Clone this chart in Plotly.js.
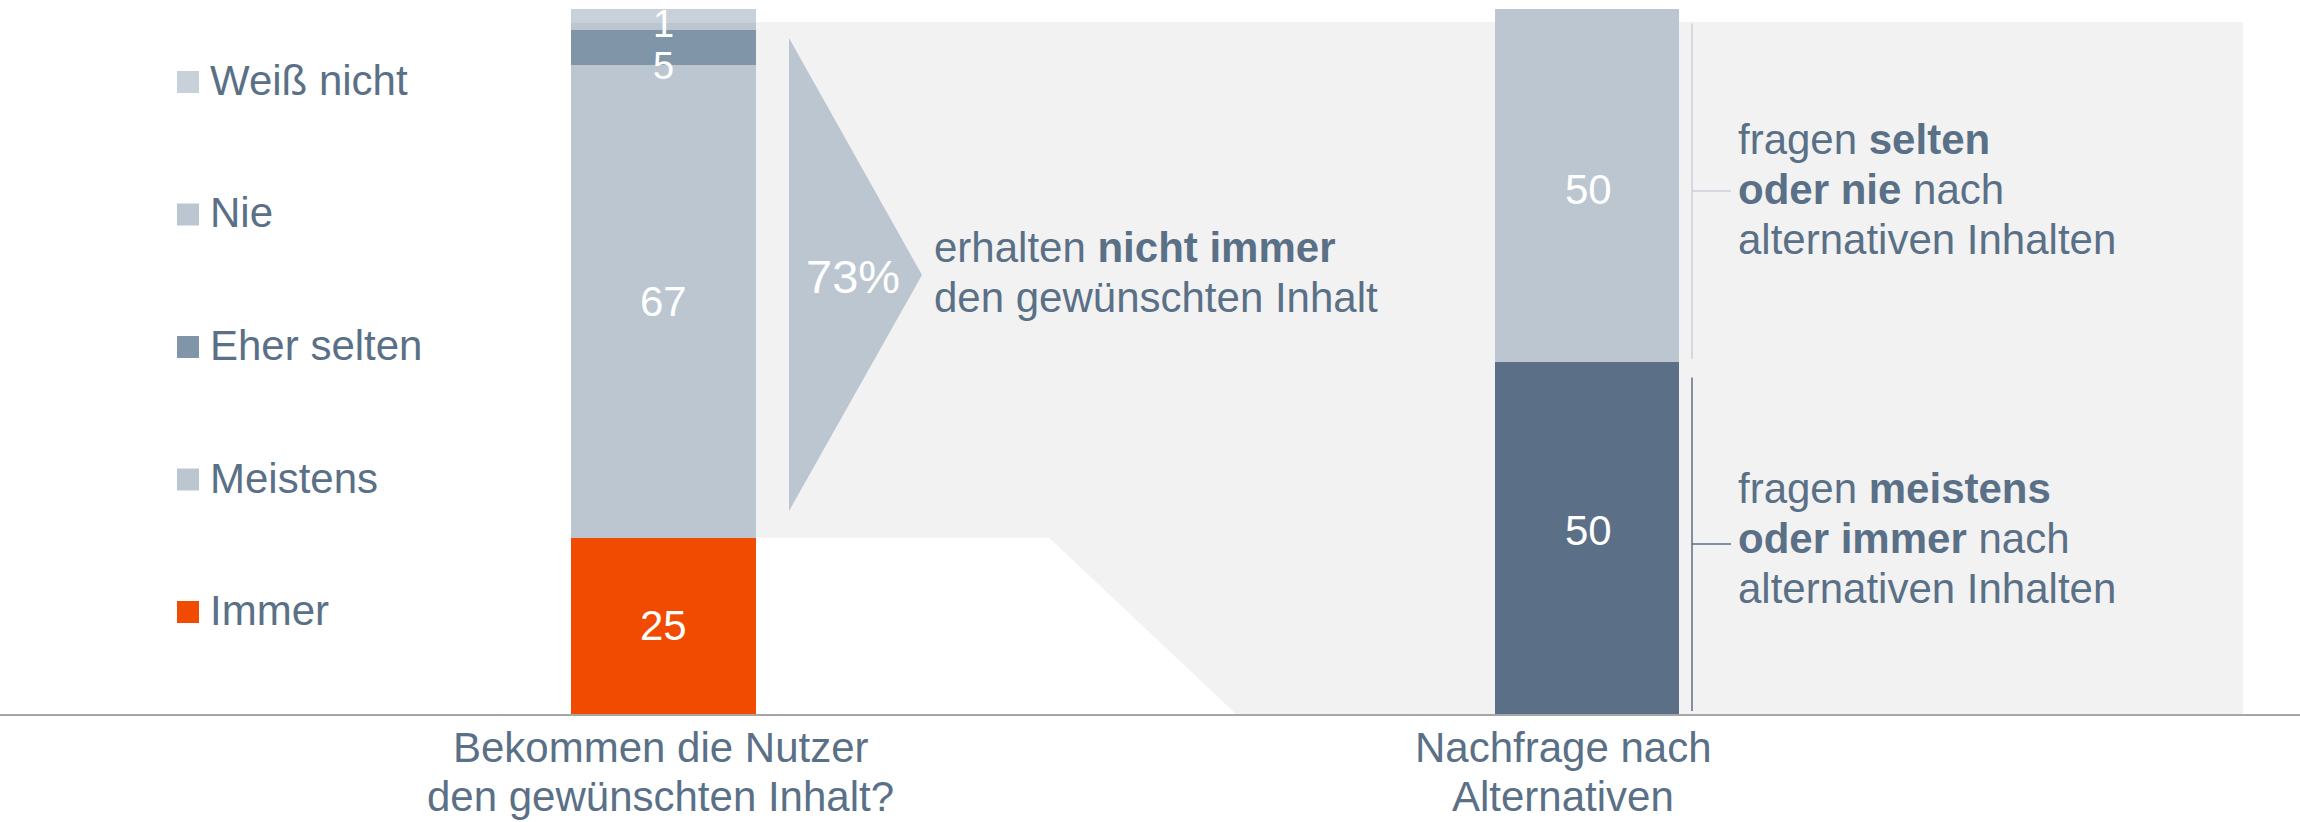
<!DOCTYPE html>
<html>
<head>
<meta charset="utf-8">
<script src="https://cdn.plot.ly/plotly-3.0.1.min.js"></script>
<style>html,body{margin:0;padding:0;background:#fff;}#chart{width:2300px;height:822px;}</style>
</head>
<body>
<div id="chart"></div>
<script>
// ---------- DATA ----------
const categories = ["Bekommen die Nutzer<br>den gewünschten Inhalt?", "Nachfrage nach<br>Alternativen"];
const answerLabels = ["Immer", "Meistens", "Eher selten", "Nie", "Weiß nicht"];
const answerValues = [25, 67, 5, 1, 2];
const answerValueLabels = ["25", "67", "5", "1", ""];
const demandLabels = ["meistens oder immer", "selten oder nie"];
const demandValues = [50, 50];
const demandValueLabels = ["50", "50"];
const shareNotAlways = "73%";
const leftNoteLines = ["erhalten <b>nicht immer</b>", "den gewünschten Inhalt"];
const upperNoteLines = ["fragen <b>selten</b>", "<b>oder nie</b> nach", "alternativen Inhalten"];
const lowerNoteLines = ["fragen <b>meistens</b>", "<b>oder immer</b> nach", "alternativen Inhalten"];

// ---------- STYLE ----------
const W = 2300, H = 822;
const M = {l: 0, r: 0, t: 9, b: 108};
const PH = H - M.t - M.b;
const FONT = "Liberation Sans, Arial, Helvetica, sans-serif";
const TXT = "#5a7087";
const answerColors = ["#f04b00", "#bcc6d0", "#8195a8", "#bcc6d0", "#c8d0d9"];
const demandColors = ["#5b7086", "#bcc6d0"];
const answerLabelShift = [0, 0, -18.5, 2.5, 0];
const answerLabelSize = [42, 42, 38, 38, 38];
const demandLabelShift = [7.5, -4.5];
const px = x => x / W;
const py = y => (H - M.b - y) / PH;

const traces = [];
answerLabels.forEach((name, i) => {
  traces.push({
    type: "bar", name: name, x: [categories[0]], y: [answerValues[i]],
    marker: {color: answerColors[i], line: {width: 0}}, showlegend: false, hoverinfo: "skip"
  });
});
demandLabels.forEach((name, i) => {
  traces.push({
    type: "bar", name: name, x: [categories[1]], y: [demandValues[i]],
    marker: {color: demandColors[i], line: {width: 0}}, showlegend: false, hoverinfo: "skip"
  });
});

const annotations = [];
const shapes = [];

// bar value labels
let cum = 0;
answerValues.forEach((v, i) => {
  if (answerValueLabels[i]) {
    annotations.push({x: categories[0], y: cum + v / 2, xref: "x", yref: "y", text: answerValueLabels[i],
      showarrow: false, xanchor: "center", yanchor: "middle", yshift: answerLabelShift[i], borderpad: 0,
      font: {family: FONT, size: answerLabelSize[i], color: "#ffffff"}});
  }
  cum += v;
});
cum = 0;
demandValues.forEach((v, i) => {
  annotations.push({x: categories[1], y: cum + v / 2, xref: "x", yref: "y", text: demandValueLabels[i],
    showarrow: false, xanchor: "center", yanchor: "middle", yshift: demandLabelShift[i], xshift: 2,
    font: {family: FONT, size: 42, color: "#ffffff"}});
  cum += v;
});

// category labels (two lines each)
const catCenters = [661, 1563];
categories.forEach((c, i) => {
  c.split("<br>").forEach((line, j) => {
    annotations.push({x: px(catCenters[i]), y: py([762, 811][j] - 14.5), xref: "paper", yref: "paper",
      text: line, showarrow: false, xanchor: "center", yanchor: "middle",
      font: {family: FONT, size: 42, color: TXT}});
  });
});

// legend (custom)
const legendRows = [82, 214.5, 347, 479.5, 612];
for (let k = 0; k < answerLabels.length; k++) {
  const i = answerLabels.length - 1 - k;
  const cy = legendRows[k];
  shapes.push({type: "rect", xref: "paper", yref: "paper", x0: px(177), x1: px(199), y0: py(cy + 11), y1: py(cy - 11),
    fillcolor: answerColors[i], line: {width: 0}});
  annotations.push({x: px(208), y: py(cy - 1.5), xref: "paper", yref: "paper", text: answerLabels[i],
    showarrow: false, xanchor: "left", yanchor: "middle", font: {family: FONT, size: 42, color: TXT}});
}

// gray background panel
shapes.push({type: "path", layer: "below", xref: "paper", yref: "paper",
  path: `M ${px(663)} ${py(22)} L ${px(2243)} ${py(22)} L ${px(2243)} ${py(714)} L ${px(1236)} ${py(714)} L ${px(1049)} ${py(537.75)} L ${px(663)} ${py(537.75)} Z`,
  fillcolor: "#f2f2f2", line: {width: 0}});

// chevron
shapes.push({type: "path", xref: "paper", yref: "paper",
  path: `M ${px(789)} ${py(38)} L ${px(922)} ${py(275)} L ${px(789)} ${py(511)} Z`,
  fillcolor: "#bcc6d0", line: {width: 0}});
annotations.push({x: px(853), y: py(276.5), xref: "paper", yref: "paper", text: shareNotAlways,
  showarrow: false, xanchor: "center", yanchor: "middle", font: {family: FONT, size: 47, color: "#ffffff"}});

// left note
[262, 312].forEach((b, j) => {
  annotations.push({x: px(932), y: py(b - 14.5), xref: "paper", yref: "paper", text: leftNoteLines[j],
    showarrow: false, xanchor: "left", yanchor: "middle", font: {family: FONT, size: 42, color: TXT}});
});

// brackets
shapes.push({type: "line", xref: "paper", yref: "paper", x0: px(1692), x1: px(1692), y0: py(23.5), y1: py(359),
  line: {color: "#c8d0d9", width: 1.5}});
shapes.push({type: "line", xref: "paper", yref: "paper", x0: px(1692), x1: px(1731), y0: py(191), y1: py(191),
  line: {color: "#c8d0d9", width: 1.5}});
shapes.push({type: "line", xref: "paper", yref: "paper", x0: px(1692), x1: px(1692), y0: py(377.5), y1: py(711),
  line: {color: "#5b7086", width: 1.5}});
shapes.push({type: "line", xref: "paper", yref: "paper", x0: px(1692), x1: px(1731), y0: py(544), y1: py(544),
  line: {color: "#5b7086", width: 1.5}});

// right notes
[154, 204, 254].forEach((b, j) => {
  annotations.push({x: px(1736), y: py(b - 14.5), xref: "paper", yref: "paper", text: upperNoteLines[j],
    showarrow: false, xanchor: "left", yanchor: "middle", font: {family: FONT, size: 42, color: TXT}});
});
[503, 553, 603].forEach((b, j) => {
  annotations.push({x: px(1736), y: py(b - 14.5), xref: "paper", yref: "paper", text: lowerNoteLines[j],
    showarrow: false, xanchor: "left", yanchor: "middle", font: {family: FONT, size: 42, color: TXT}});
});

const layout = {
  width: W, height: H, margin: M,
  paper_bgcolor: "#ffffff", plot_bgcolor: "rgba(0,0,0,0)",
  barmode: "stack", bargap: 0.8, showlegend: false, hovermode: false,
  xaxis: {type: "category", categoryorder: "array", categoryarray: categories,
    range: [-0.7185, 1.7721], showticklabels: false, ticks: "", showgrid: false, zeroline: false,
    showline: true, linecolor: "#a6a6a6", linewidth: 2, fixedrange: true},
  yaxis: {range: [0, 100], visible: false, showgrid: false, zeroline: false, fixedrange: true},
  font: {family: FONT, color: TXT},
  annotations: annotations, shapes: shapes
};

Plotly.newPlot("chart", traces, layout, {displayModeBar: false, staticPlot: true});
</script>
</body>
</html>
